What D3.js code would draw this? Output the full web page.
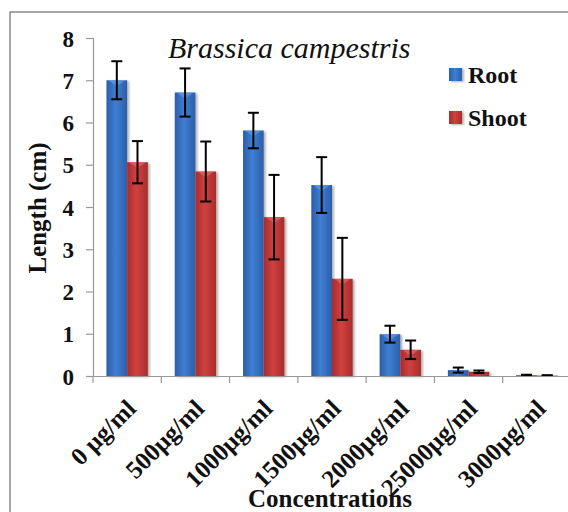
<!DOCTYPE html>
<html><head><meta charset="utf-8">
<script src="https://cdn.jsdelivr.net/npm/d3@7"></script>
<style>body{margin:0;background:#fff}svg{display:block}</style>
</head><body>
<svg id="c" width="568" height="512"></svg>
<script>
const categories = ["0 μg/ml","500μg/ml","1000μg/ml","1500μg/ml","2000μg/ml","25000μg/ml","3000μg/ml"];
const series = ["Root","Shoot"];
const rootValues  = [7.0, 6.71, 5.81, 4.52, 0.99, 0.14, 0.02];
const rootErrors  = [0.45, 0.57, 0.42, 0.66, 0.20, 0.06, 0.01];
const shootValues = [5.06, 4.84, 3.76, 2.30, 0.62, 0.10, 0.01];
const shootErrors = [0.50, 0.71, 1.00, 0.97, 0.22, 0.03, 0.01];
const yTicks = [0,1,2,3,4,5,6,7,8];

const svg = d3.select("#c");
const font = "'Liberation Serif','Times New Roman',serif";
const defs = svg.append("defs");
function grad(id, edge, mid){
  const g = defs.append("linearGradient").attr("id", id).attr("x1","0").attr("x2","1").attr("y1","0").attr("y2","0");
  g.append("stop").attr("offset","0").attr("stop-color", edge);
  g.append("stop").attr("offset","0.45").attr("stop-color", mid);
  g.append("stop").attr("offset","1").attr("stop-color", edge);
}
grad("gRoot", "#2c5ea8", "#3f7fd2");
grad("gShoot", "#a82c2c", "#d0413f");
const colors = {Root:"url(#gRoot)", Shoot:"url(#gShoot)"};
const tops = {Root:"#6aa3e8", Shoot:"#e27070"};
const f = defs.append("filter").attr("id","sh").attr("x","-20%").attr("y","-5%").attr("width","150%").attr("height","120%");
f.append("feDropShadow").attr("dx",2).attr("dy",1).attr("stdDeviation",1.2).attr("flood-color","#000").attr("flood-opacity",0.3);

// outer border
svg.append("rect").attr("x",10).attr("y",12).attr("width",600).attr("height",600)
  .attr("fill","none").attr("stroke","#8a8a8a").attr("stroke-width",1.5);

const pLeft = 93, pRight = 571, pTop = 38, pBottom = 376;
const y = d3.scaleLinear().domain([0,8]).range([pBottom, pTop]);
const x0 = d3.scaleBand().domain(categories).range([pLeft, pRight]).padding(0);
const x1 = d3.scaleBand().domain(series).range([0, x0.bandwidth()]).paddingInner(0).paddingOuter(0.65);

const data = categories.map((c,i)=>({c, vals:[
  {s:"Root", v:rootValues[i], e:rootErrors[i]},
  {s:"Shoot", v:shootValues[i], e:shootErrors[i]}]}));

// y axis
const yAxis = d3.axisLeft(y).tickValues(yTicks).tickSize(7).tickPadding(12).tickFormat(d3.format("d"));
const ga = svg.append("g").attr("transform",`translate(${pLeft},0)`).call(yAxis);
ga.select(".domain").attr("stroke","#999").attr("stroke-width",1.2);
ga.selectAll(".tick line").attr("stroke","#999").attr("stroke-width",1.2);
ga.selectAll("text").attr("font-family",font).attr("font-weight","bold").attr("font-size",23).attr("fill","#111").attr("dy","0.35em");

// bars
const grp = svg.append("g").selectAll("g").data(data).join("g")
  .attr("transform", d=>`translate(${x0(d.c)},0)`);
grp.selectAll("rect.bar").data(d=>d.vals).join("rect").attr("class","bar")
  .attr("x", d=>x1(d.s)).attr("width", x1.bandwidth())
  .attr("y", d=>y(d.v)).attr("height", d=>y(0)-y(d.v))
  .attr("fill", d=>colors[d.s]).attr("filter","url(#sh)");
grp.selectAll("path.bev").data(d=>d.vals.filter(v=>y(0)-y(v.v)>6)).join("path").attr("class","bev")
  .attr("d", d=>{const xa=x1(d.s)+2, xb=x1(d.s)+x1.bandwidth()-2, yt=y(d.v);
    return `M${xa},${yt}L${xb},${yt}L${(xa+xb)/2},${yt+6}Z`;})
  .attr("fill", d=>tops[d.s]).attr("opacity",0.6);

// x axis
const xAxis = d3.axisBottom(x0).tickSize(0).tickFormat("");
const gx = svg.append("g").attr("transform",`translate(0,${pBottom})`).call(xAxis);
gx.select(".domain").attr("stroke","#999").attr("stroke-width",1.2);
const bounds = categories.map(c=>x0(c)).concat([pRight]);
svg.append("g").selectAll("line").data(bounds).join("line")
  .attr("x1",d=>d).attr("x2",d=>d).attr("y1",pBottom).attr("y2",pBottom+7)
  .attr("stroke","#999").attr("stroke-width",1.2);

// error bars
const eb = grp.selectAll("g.eb").data(d=>d.vals).join("g").attr("class","eb")
  .attr("stroke","#000").attr("stroke-width",2);
const cx = d=>x1(d.s)+x1.bandwidth()/2;
eb.append("line").attr("x1",cx).attr("x2",cx).attr("y1",d=>y(d.v+d.e)).attr("y2",d=>y(Math.max(0,d.v-d.e)));
eb.append("line").attr("x1",d=>cx(d)-5.5).attr("x2",d=>cx(d)+5.5).attr("y1",d=>y(d.v+d.e)).attr("y2",d=>y(d.v+d.e));
eb.append("line").attr("x1",d=>cx(d)-5.5).attr("x2",d=>cx(d)+5.5).attr("y1",d=>y(Math.max(0,d.v-d.e))).attr("y2",d=>y(Math.max(0,d.v-d.e)));

// x labels
svg.append("g").selectAll("text").data(categories).join("text")
  .attr("transform", d=>`translate(${x0(d)+x0.bandwidth()/2+4},${pBottom+28}) rotate(-45)`)
  .attr("text-anchor","end").attr("dy","0.35em")
  .attr("font-family",font).attr("font-weight","bold").attr("font-size",25).attr("fill","#111")
  .text(d=>d);

// titles
svg.append("text").attr("x",168).attr("y",58).attr("font-family",font).attr("font-style","italic")
  .attr("font-size",30).attr("fill","#111").text("Brassica campestris");
svg.append("text").attr("transform","translate(46,208) rotate(-90)").attr("text-anchor","middle")
  .attr("font-family",font).attr("font-weight","bold").attr("font-size",25).attr("fill","#111").text("Length (cm)");
svg.append("text").attr("x",(pLeft+pRight)/2-2).attr("y",507).attr("text-anchor","middle")
  .attr("font-family",font).attr("font-weight","bold").attr("font-size",25).attr("fill","#111").text("Concentrations");

// legend
const lg = svg.append("g").selectAll("g").data(series).join("g")
  .attr("transform",(d,i)=>`translate(449,${68+i*43})`);
lg.append("rect").attr("width",13).attr("height",13).attr("fill",d=>colors[d]).attr("filter","url(#sh)");
lg.append("text").attr("x",19).attr("y",14.5).attr("font-family",font).attr("font-weight","bold")
  .attr("font-size",24).attr("fill","#111").text(d=>d);
</script>
</body></html>
